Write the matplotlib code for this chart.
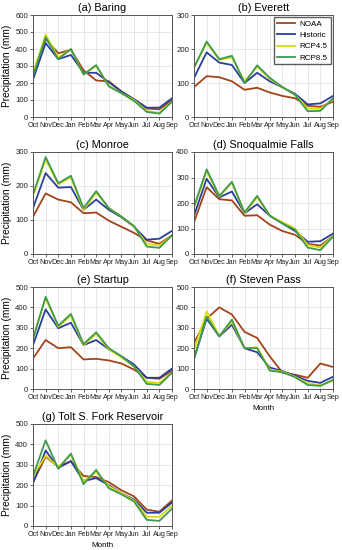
import matplotlib
matplotlib.use('Agg')
import matplotlib.pyplot as plt
import numpy as np

months = ['Oct', 'Nov', 'Dec', 'Jan', 'Feb', 'Mar', 'Apr', 'May', 'Jun', 'Jul', 'Aug', 'Sep']
series_names = ['NOAA', 'Historic', 'RCP4.5', 'RCP8.5']
colors = ['#a3441a', '#2a3f9a', '#d8dc10', '#3f9a4e']

titles = ['(a) Baring', '(b) Everett', '(c) Monroe', '(d) Snoqualmie Falls',
          '(e) Startup', '(f) Steven Pass', '(g) Tolt S. Fork Reservoir']
ymax = [600, 300, 300, 400, 500, 500, 500]

baring_noaa = [254, 460, 375, 395, 275, 215, 210, 150, 100, 50, 45, 100]
baring_hist = [220, 435, 340, 365, 260, 260, 205, 150, 105, 55, 55, 110]
baring_rcp45 = [260, 485, 350, 400, 250, 300, 185, 140, 100, 35, 25, 90]
baring_rcp85 = [240, 470, 340, 400, 250, 305, 180, 140, 95, 30, 20, 90]

everett_noaa = [88, 120, 117, 105, 80, 86, 72, 62, 55, 33, 30, 45]
everett_hist = [115, 190, 160, 153, 100, 130, 105, 87, 68, 37, 40, 62]
everett_rcp45 = [145, 218, 168, 175, 105, 148, 112, 87, 65, 25, 24, 52]
everett_rcp85 = [145, 222, 170, 180, 100, 152, 115, 88, 65, 17, 18, 55]

monroe_noaa = [110, 178, 160, 152, 120, 122, 98, 80, 62, 40, 30, 55]
monroe_hist = [135, 238, 195, 197, 130, 160, 130, 108, 80, 42, 45, 68]
monroe_rcp45 = [170, 278, 205, 225, 130, 180, 135, 110, 80, 30, 25, 55]
monroe_rcp85 = [175, 285, 208, 230, 135, 185, 135, 110, 82, 22, 18, 55]

snoq_noaa = [125, 262, 215, 210, 150, 152, 115, 90, 75, 40, 33, 70]
snoq_hist = [150, 295, 222, 245, 160, 195, 150, 120, 90, 48, 50, 80]
snoq_rcp45 = [180, 325, 225, 280, 160, 222, 150, 125, 100, 35, 25, 70]
snoq_rcp85 = [185, 332, 228, 283, 163, 228, 150, 120, 95, 25, 15, 68]

startup_noaa = [150, 240, 200, 205, 145, 148, 140, 125, 95, 55, 50, 90]
startup_hist = [215, 390, 298, 325, 215, 240, 195, 160, 120, 55, 55, 100]
startup_rcp45 = [250, 445, 305, 360, 215, 270, 195, 155, 110, 35, 30, 80]
startup_rcp85 = [245, 452, 310, 368, 220, 278, 200, 160, 110, 25, 20, 80]

steven_noaa = [225, 345, 400, 365, 280, 250, 160, 80, 70, 55, 125, 108]
steven_hist = [150, 345, 258, 315, 200, 180, 105, 88, 65, 40, 30, 60]
steven_rcp45 = [190, 380, 260, 330, 200, 205, 95, 85, 60, 28, 18, 40]
steven_rcp85 = [145, 355, 258, 340, 200, 200, 90, 82, 58, 20, 15, 45]

tolt_noaa = [215, 340, 290, 318, 245, 240, 215, 175, 145, 80, 70, 125]
tolt_hist = [210, 370, 285, 318, 220, 235, 200, 160, 130, 65, 65, 115]
tolt_rcp45 = [245, 345, 290, 350, 220, 265, 195, 160, 125, 45, 45, 100]
tolt_rcp85 = [245, 420, 280, 355, 205, 275, 185, 155, 120, 30, 25, 85]

panels = [
    [baring_noaa, baring_hist, baring_rcp45, baring_rcp85],
    [everett_noaa, everett_hist, everett_rcp45, everett_rcp85],
    [monroe_noaa, monroe_hist, monroe_rcp45, monroe_rcp85],
    [snoq_noaa, snoq_hist, snoq_rcp45, snoq_rcp85],
    [startup_noaa, startup_hist, startup_rcp45, startup_rcp85],
    [steven_noaa, steven_hist, steven_rcp45, steven_rcp85],
    [tolt_noaa, tolt_hist, tolt_rcp45, tolt_rcp85],
]

plt.rcParams['font.family'] = ['Liberation Sans', 'DejaVu Sans']

fig = plt.figure(figsize=(3.42, 5.5), dpi=100)
fig.patch.set_facecolor('white')

W, H = 342.0, 550.0
col_x = [33, 194]
row_top = [15, 152, 287, 424]
ax_w, ax_h = 139, 102

x = np.arange(len(months))
for i, (title, data) in enumerate(zip(titles, panels)):
    r, c = divmod(i, 2)
    ax = fig.add_axes([col_x[c] / W, 1 - (row_top[r] + ax_h) / H, ax_w / W, ax_h / H])
    for vals, name, col in zip(data, series_names, colors):
        ax.plot(x, vals, color=col, linewidth=1.3, label=name)
    ax.set_xlim(0, len(months) - 1)
    ax.set_ylim(0, ymax[i])
    ax.set_yticks(np.arange(0, ymax[i] + 1, 100))
    ax.set_xticks(x)
    ax.set_xticklabels(months)
    ax.grid(True, color='#e4e4e4', linewidth=0.6)
    ax.set_axisbelow(True)
    ax.tick_params(axis='both', labelsize=5.6, length=2, width=0.5, pad=1.5, colors='#222222')
    ax.tick_params(axis='x', labelsize=5.2)
    for spine in ax.spines.values():
        spine.set_edgecolor('#555555')
        spine.set_linewidth(0.7)
    ax.set_title(title, fontsize=7.8, pad=3)
    if c == 0:
        ax.set_ylabel('Precipitation (mm)', fontsize=7.3, labelpad=2)
    if i in (5, 6):
        ax.set_xlabel('Month', fontsize=5.8, labelpad=3)
    if i == 1:
        ax.legend(loc='upper right', fontsize=5.8, frameon=True, fancybox=False,
                  edgecolor='#333333', handlelength=2.2, borderpad=0.35,
                  labelspacing=0.45, handletextpad=0.6, borderaxespad=0.3)

fig.savefig('out.png', dpi=100, facecolor='white')
